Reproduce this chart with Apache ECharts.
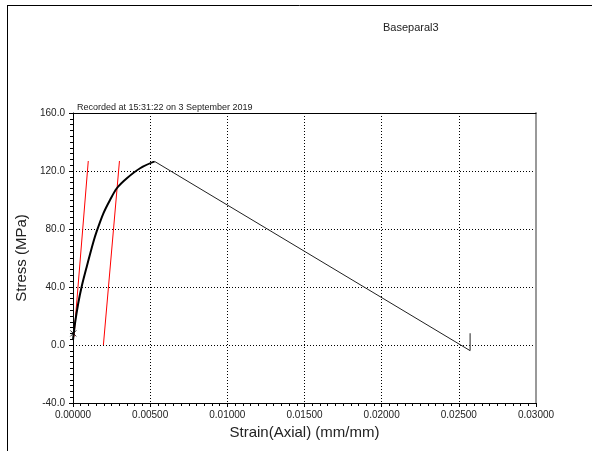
<!DOCTYPE html>
<html>
<head>
<meta charset="utf-8">
<script src="https://cdn.jsdelivr.net/npm/echarts@6/dist/echarts.min.js"></script>
<style>
html,body{margin:0;padding:0;background:#fff;}
#chart{width:592px;height:451px;}
</style>
</head>
<body>
<div id="chart"></div>
<script>
// Loading curve (rising part)
const curveStrain = [0.0, 0.00013, 0.00034, 0.00056, 0.00089, 0.00132, 0.00154, 0.00197, 0.0024, 0.00284, 0.00349, 0.00435, 0.00529];
const curveStress = [3.4, 15.0, 28.8, 40.2, 54.0, 71.0, 78.5, 90.8, 100.0, 108.1, 115.0, 121.9, 126.6];
// Post-peak decline
const declineStrain = [0.00529, 0.02573, 0.02573];
const declineStress = [126.6, -3.9, 8.1];
// Red modulus lines
const red1Strain = [0.00006, 0.00099];
const red1Stress = [5.7, 126.9];
const red2Strain = [0.00197, 0.00301];
const red2Stress = [0.0, 126.9];
// Marker near origin
const markStrain = [0.00002];
const markStress = [8.0];
// Axes
const xTicks = [0, 0.005, 0.01, 0.015, 0.02, 0.025, 0.03];
const yTicks = [-40, 0, 40, 80, 120, 160];

const zip = (a, b) => a.map((v, i) => [v, b[i]]);
const font = '"Liberation Sans", Arial, sans-serif';

const chart = echarts.init(document.getElementById('chart'), null, {renderer: 'canvas'});
chart.setOption({
  animation: false,
  backgroundColor: '#fff',
  grid: {left: 73, right: 56, top: 113, bottom: 48, containLabel: false},
  graphic: [
    {type: 'line', shape: {x1: 7, y1: 5.5, x2: 592, y2: 5.5}, style: {stroke: '#000', lineWidth: 1}},
    {type: 'line', shape: {x1: 7.5, y1: 5, x2: 7.5, y2: 451}, style: {stroke: '#000', lineWidth: 1}},
    {type: 'text', left: 383, top: 22, style: {text: 'Baseparal3', font: '11px ' + font, fill: '#222'}},
    {type: 'text', left: 77, top: 103, style: {text: 'Recorded at 15:31:22 on 3 September 2019', font: '9px ' + font, fill: '#222'}}
  ],
  xAxis: [{
    type: 'value', min: xTicks[0], max: xTicks[xTicks.length - 1], interval: 0.005,
    name: 'Strain(Axial) (mm/mm)', nameLocation: 'middle', nameGap: 21,
    nameTextStyle: {fontFamily: font, fontSize: 15, color: '#222'},
    axisLine: {show: true, onZero: false, lineStyle: {color: '#000', width: 1}},
    axisTick: {show: true, length: 4, inside: false, lineStyle: {color: '#000'}},
    minorTick: {show: true, splitNumber: 10, length: 3, lineStyle: {color: '#000'}},
    axisLabel: {fontFamily: font, fontSize: 10, color: '#222', margin: 7, formatter: v => v.toFixed(5)},
    splitLine: {show: true, lineStyle: {color: '#000', type: [1, 2], width: 1}},
    minorSplitLine: {show: false}
  }, {
    type: 'value', position: 'top', min: 0, max: 0.03,
    axisLine: {show: true, onZero: false, lineStyle: {color: '#000', width: 1}},
    axisTick: {show: false}, axisLabel: {show: false}, splitLine: {show: false}
  }],
  yAxis: [{
    type: 'value', min: yTicks[0], max: yTicks[yTicks.length - 1], interval: 40,
    name: 'Stress (MPa)', nameLocation: 'middle', nameGap: 35,
    nameTextStyle: {fontFamily: font, fontSize: 15, color: '#222'},
    axisLine: {show: true, onZero: false, lineStyle: {color: '#000', width: 1}},
    axisTick: {show: true, length: 4, lineStyle: {color: '#000'}},
    minorTick: {show: true, splitNumber: 10, length: 3, lineStyle: {color: '#000'}},
    axisLabel: {fontFamily: font, fontSize: 10, color: '#222', margin: 8, formatter: v => v.toFixed(1)},
    splitLine: {show: true, lineStyle: {color: '#000', type: [1, 2], width: 1}}
  }, {
    type: 'value', position: 'right', min: -40, max: 160,
    axisLine: {show: true, onZero: false, lineStyle: {color: '#999', width: 2}},
    axisTick: {show: false}, axisLabel: {show: false}, splitLine: {show: false}
  }],
  series: [
    {type: 'line', data: zip(red1Strain, red1Stress), symbol: 'none', lineStyle: {color: '#ff0000', width: 1}, z: 3},
    {type: 'line', data: zip(red2Strain, red2Stress), symbol: 'none', lineStyle: {color: '#ff0000', width: 1}, z: 3},
    {type: 'line', data: zip(curveStrain, curveStress), symbol: 'none', smooth: 0.3, lineStyle: {color: '#000', width: 2}, z: 4},
    {type: 'line', data: zip(declineStrain, declineStress), symbol: 'none', lineStyle: {color: '#222', width: 1}, z: 4},
    {type: 'scatter', data: zip(markStrain, markStress), symbol: 'path://M0,0L10,10M10,0L0,10', symbolSize: 6,
     itemStyle: {color: 'none', borderColor: '#000', borderWidth: 1}, z: 5}
  ]
});
</script>
</body>
</html>
